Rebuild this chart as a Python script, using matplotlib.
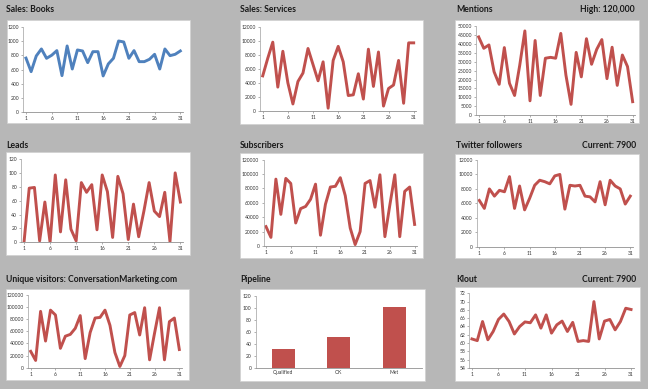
import matplotlib
matplotlib.use("Agg")
import matplotlib.pyplot as plt
from matplotlib.patches import Rectangle

plt.rcParams['font.family'] = ['Lato', 'DejaVu Sans']

days = list(range(1, 32))
day_ticks = [1, 6, 11, 16, 21, 26, 31]

sales_books = [760, 570, 790, 888, 757, 800, 865, 514, 930, 607, 874, 860, 696, 850, 850,
               510, 678, 757, 1000, 986, 757, 865, 710, 710, 743, 813, 607, 888, 794, 813, 860]
sales_services = [5000, 7500, 9800, 3400, 8500, 4000, 1000, 4200, 5400, 8900, 6600, 4300, 7000, 400, 7200,
                  9200, 7000, 2200, 2300, 5300, 1700, 8800, 3500, 8400, 700, 3200, 3700, 7200, 1100, 9700, 9700]
mentions = [44000, 37600, 39500, 24400, 17300, 38000, 17900, 11000, 28000, 47400, 8000, 42000, 11000, 32000, 32500,
            32000, 46000, 22500, 6000, 35300, 21500, 43000, 28600, 37000, 42500, 20500, 38200, 16700, 33800, 27300, 7500]
leads = [0, 78, 79, 2, 58, 0, 97, 15, 90, 19, 2, 86, 72, 83, 18,
         97, 73, 7, 95, 70, 4, 55, 8, 45, 86, 45, 37, 72, 1, 100, 58]
subscribers = [27000, 12000, 93000, 44000, 94000, 87000, 32000, 52000, 55000, 65000, 86000, 15000, 58000, 82000, 83000,
               95000, 70000, 25000, 2000, 20000, 87000, 91000, 54000, 99000, 13000, 57000, 99000, 13000, 76000, 82000, 30000]
twitter = [6400, 5300, 8000, 7000, 7800, 7600, 9700, 5300, 8400, 5100, 6700, 8500, 9200, 9000, 8700,
           9800, 10000, 5200, 8500, 8400, 8500, 7000, 6900, 6200, 9000, 5800, 9200, 8400, 8000, 5900, 7000]
visitors = [27000, 12000, 93000, 44000, 95000, 87000, 32000, 52000, 55000, 65000, 86000, 15000, 58000, 82000, 83000,
            95000, 70000, 25000, 2000, 20000, 87000, 91000, 54000, 99000, 13000, 57000, 99000, 13000, 76000, 82000, 30000]
pipeline_cats = ["Qualified", "OK", "Met"]
pipeline_vals = [31, 51, 101]
klout = [61.0, 60.6, 65.2, 60.8, 62.8, 65.7, 67.0, 65.2, 62.2, 64.0, 65.1, 64.9, 66.8, 63.6, 66.8,
         62.4, 64.4, 65.3, 62.8, 65.0, 60.4, 60.6, 60.4, 70.0, 61.0, 65.3, 65.7, 63.2, 65.2, 68.4, 68.1]

BLUE = "#4f81bd"
RED = "#c0504d"
W, H = 648, 389

fig = plt.figure(figsize=(6.48, 3.89), dpi=100)
fig.patch.set_facecolor("#b7b7b7")


def box(x0, y0, x1, y1):
    r = Rectangle((x0 / W, 1 - y1 / H), (x1 - x0) / W, (y1 - y0) / H,
                  transform=fig.transFigure, facecolor="white",
                  edgecolor="#d0d0d0", lw=0.5, zorder=-5)
    fig.patches.append(r)


def make_ax(l, t, r, b):
    ax = fig.add_axes([l / W, 1 - b / H, (r - l) / W, (b - t) / H])
    ax.set_zorder(2)
    ax.set_facecolor("white")
    for s in ["top", "right"]:
        ax.spines[s].set_visible(False)
    ax.spines["left"].set_color("#b0b0b0")
    ax.spines["bottom"].set_color("#909090")
    ax.spines["left"].set_linewidth(0.6)
    ax.spines["bottom"].set_linewidth(0.6)
    ax.tick_params(axis="both", labelsize=3.6, length=1.5, width=0.5, color="#909090",
                   pad=1.5, labelcolor="#333333")
    return ax


def title(x, y, text, ha="left"):
    fig.text(x / W, 1 - y / H, text, ha=ha, va="center", fontsize=6.2,
             fontweight="bold", color="#1a1a1a")


def line_panel(boxc, axc, data, ymax, ystep, color=RED, ymin=0):
    box(*boxc)
    ax = make_ax(*axc)
    ax.plot(days, data, color=color, lw=2.1, solid_joinstyle="round")
    ax.set_xlim(0.5, 31.5)
    ax.set_ylim(ymin, ymax)
    ax.set_yticks(list(range(ymin, ymax + 1, ystep)))
    ax.set_xticks(day_ticks)
    return ax


# Row 1
title(6, 10, "Sales: Books")
line_panel((7, 20, 190, 123), (23.4, 26.7, 182.9, 112.3), sales_books, 1200, 200, color=BLUE)
title(240, 10, "Sales: Services")
line_panel((240, 20, 423, 124), (260.2, 26.7, 416.2, 111), sales_services, 12000, 2000)
title(456, 10, "Mentions")
title(635, 10, "High: 120,000", ha="right")
line_panel((455, 20, 639, 123), (476.1, 26.3, 635.2, 115), mentions, 50000, 5000)

# Row 2
title(6, 145, "Leads")
line_panel((6, 152, 190, 255), (21.4, 159, 183, 242.3), leads, 120, 20)
title(240, 145, "Subscribers")
line_panel((240, 153, 423, 258), (263.5, 159.7, 417.1, 246), subscribers, 120000, 20000)
title(456, 145, "Twitter followers")
title(636, 145, "Current: 7900", ha="right")
line_panel((455, 154, 639, 258), (476.8, 160, 632.8, 246.7), twitter, 12000, 2000)

# Row 3
title(6, 279, "Unique visitors: ConversationMarketing.com")
line_panel((6, 289, 189, 380), (28.2, 295, 181.8, 367.7), visitors, 120000, 20000)
title(240, 280, "Pipeline")
box(240, 289, 425, 381)
axp = make_ax(255.6, 295.7, 422, 367.7)
axp.bar(range(len(pipeline_cats)), pipeline_vals, width=0.41, color=RED, zorder=2)
axp.set_xlim(-0.5, 2.5)
axp.set_ylim(0, 120)
axp.set_yticks(list(range(0, 121, 20)))
axp.set_xticks(range(len(pipeline_cats)))
axp.set_xticklabels(pipeline_cats)
axp.tick_params(axis="x", length=0)
title(456, 279, "Klout")
title(636, 279, "Current: 7900", ha="right")
line_panel((455, 287, 640, 381), (469.3, 293.3, 633.7, 368), klout, 72, 2, ymin=54)

fig.savefig("out.png", dpi=100, facecolor=fig.get_facecolor())
